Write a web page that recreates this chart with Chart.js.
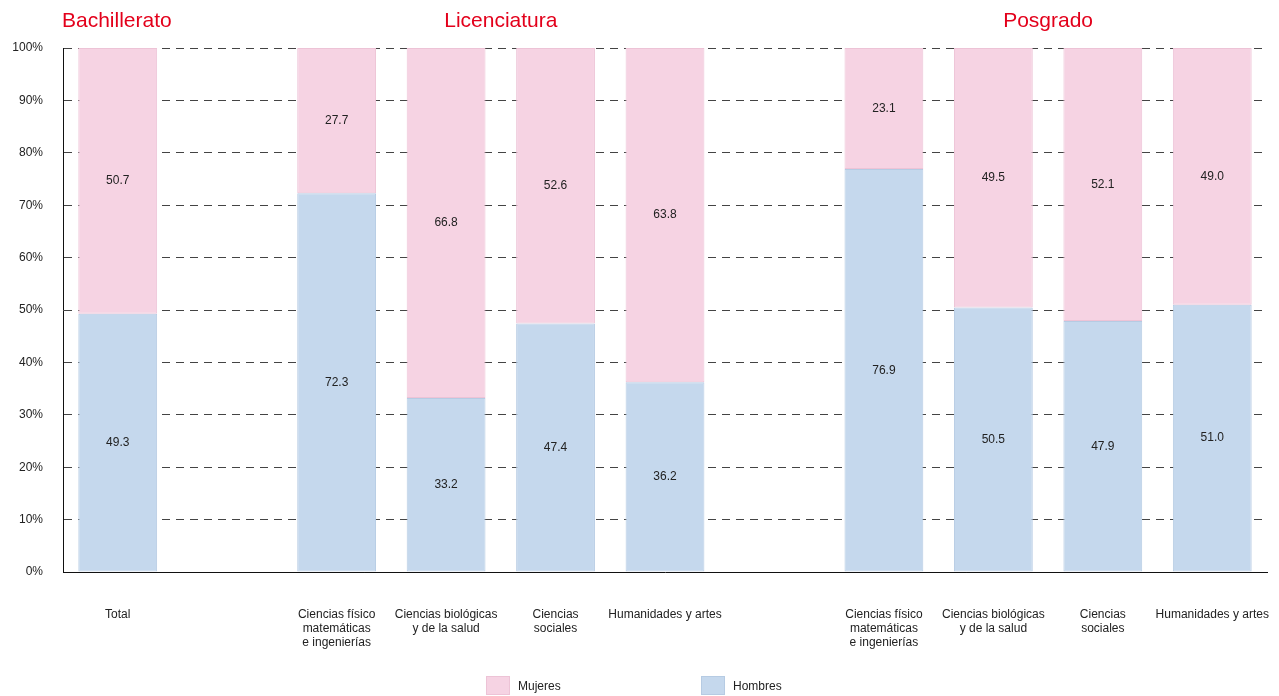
<!DOCTYPE html>
<html><head><meta charset="utf-8">
<script src="https://cdn.jsdelivr.net/npm/chart.js@4/dist/chart.umd.min.js"></script>
<style>html,body{margin:0;padding:0;background:#fff}#wrap{width:1279px;height:696px;position:relative}</style>
</head><body><div id="wrap"><canvas id="c" width="1279" height="696"></canvas></div>
<script>
const categories = [
  ["Total"],
  [""],
  ["Ciencias físico","matemáticas","e ingenierías"],
  ["Ciencias biológicas","y de la salud"],
  ["Ciencias","sociales"],
  ["Humanidades y artes"],
  [""],
  ["Ciencias físico","matemáticas","e ingenierías"],
  ["Ciencias biológicas","y de la salud"],
  ["Ciencias","sociales"],
  ["Humanidades y artes"]
];
const hombres = [49.3, null, 72.3, 33.2, 47.4, 36.2, null, 76.9, 50.5, 47.9, 51.0];
const mujeres = [50.7, null, 27.7, 66.8, 52.6, 63.8, null, 23.1, 49.5, 52.1, 49.0];
const yTicks = [0,10,20,30,40,50,60,70,80,90,100];
const groups = [
  {name:"Bachillerato", from:0, to:0, align:"left"},
  {name:"Licenciatura", from:2, to:5, align:"center"},
  {name:"Posgrado", from:7, to:10, align:"center"}
];
const legendItems = [
  {label:"Mujeres", fill:"#F6D3E3", stroke:"#EDC3D6"},
  {label:"Hombres", fill:"#C5D8ED", stroke:"#B6CBE3"}
];
const FONT = "'Liberation Sans', Arial, sans-serif";

const overlay = {
  id:'overlay',
  afterDatasetsDraw(chart){
    const ctx = chart.ctx;
    const xs = chart.scales.x;
    ctx.save();
    ctx.font = "12px " + FONT;
    ctx.fillStyle = "#222";
    ctx.textAlign = "center";
    ctx.textBaseline = "middle";
    chart.data.datasets.forEach((ds, di) => {
      const meta = chart.getDatasetMeta(di);
      meta.data.forEach((bar, i) => {
        const v = ds.data[i];
        if (v == null) return;
        const p = bar.getProps(['x','y','base'], true);
        ctx.fillText(v.toFixed(1), p.x, (p.y + p.base) / 2);
      });
    });
    // group titles
    ctx.font = "21px " + FONT;
    ctx.fillStyle = "#E3001B";
    ctx.textBaseline = "alphabetic";
    groups.forEach(g => {
      if (g.align === "left") {
        ctx.textAlign = "left";
        ctx.fillText(g.name, chart.chartArea.left - 1, 27);
      } else {
        ctx.textAlign = "center";
        const cx = (xs.getPixelForValue(g.from) + xs.getPixelForValue(g.to)) / 2;
        ctx.fillText(g.name, cx, 27);
      }
    });
    // legend
    ctx.font = "12px " + FONT;
    ctx.textAlign = "left";
    ctx.textBaseline = "middle";
    const lx = [486, 701];
    legendItems.forEach((it, k) => {
      ctx.fillStyle = it.fill;
      ctx.fillRect(lx[k], 676, 24, 19);
      ctx.strokeStyle = it.stroke;
      ctx.lineWidth = 1;
      ctx.strokeRect(lx[k] + 0.5, 676.5, 23, 18);
      ctx.fillStyle = "#222";
      ctx.fillText(it.label, lx[k] + 32, 687);
    });
    ctx.restore();
  }
};

new Chart(document.getElementById('c'), {
  type: 'bar',
  data: {
    labels: categories,
    datasets: [
      {label:"Hombres", data:hombres, backgroundColor:"#C5D8ED", borderColor:"#B6CBE3", borderWidth:1, borderSkipped:false},
      {label:"Mujeres", data:mujeres, backgroundColor:"#F6D3E3", borderColor:"#EDC3D6", borderWidth:1, borderSkipped:false}
    ]
  },
  options: {
    responsive:false,
    animation:false,
    events:[],
    layout:{padding:{left:0, right:12, top:48, bottom:0}},
    datasets:{bar:{categoryPercentage:1.0, barPercentage:0.72}},
    plugins:{legend:{display:false}, tooltip:{enabled:false}, title:{display:false}},
    scales:{
      x:{
        stacked:true,
        grid:{display:false, drawTicks:false},
        border:{display:true, color:"#111", width:1},
        ticks:{font:{size:12, family:FONT}, color:"#222", padding:35, maxRotation:0, autoSkip:false},
        afterFit(s){ s.height = 124; s.paddingLeft = 0; s.paddingRight = 0; }
      },
      y:{
        stacked:true,
        min:0, max:100,
        afterBuildTicks(s){ s.ticks = yTicks.map(v => ({value:v})); },
        grid:{color:"#444", lineWidth:1, drawTicks:false, tickLength:0},
        border:{display:true, color:"#111", width:1, dash:[8,6]},
        ticks:{font:{size:12, family:FONT}, color:"#222", padding:20, callback:v => v + "%"},
        afterFit(s){ s.width = 63; s.paddingTop = 0; s.paddingBottom = 0; }
      }
    }
  },
  plugins:[overlay]
});
</script>
</body></html>
